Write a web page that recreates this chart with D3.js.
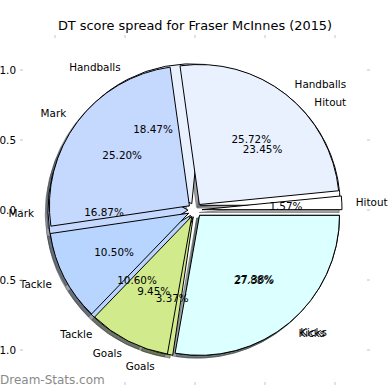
<!DOCTYPE html>
<html>
<head>
<meta charset="utf-8">
<script src="https://cdn.jsdelivr.net/npm/d3@7"></script>
<style>
  html, body { margin: 0; padding: 0; background: #fff; }
  svg { display: block; font-family: "DejaVu Sans", sans-serif; }
</style>
</head>
<body>
<svg id="chart" width="390" height="390"></svg>
<script>
// ---- data ----
const categories = ["Hitout", "Handballs", "Mark", "Tackle", "Goals", "Kicks"];
const backValues = [23.45, 18.47, 16.87, 10.60, 3.37, 27.38];
const frontValues = [1.57, 25.72, 25.20, 10.50, 9.45, 27.88];
const tickValues = [-1.0, -0.5, 0.0, 0.5, 1.0];
const titleText = "DT score spread for Fraser McInnes (2015)";
const watermark = "Dream-Stats.com";

// ---- style ----
const wedgeColors = ["#ffffff", "#e9f0fe", "#c5d8fd", "#b8d5ff", "#d1eb8c", "#dcffff"];
const explode = 0.05;

const svg = d3.select("#chart");
const x = d3.scaleLinear().domain([-1.25, 1.25]).range([20, 370]);
const y = d3.scaleLinear().domain([-1.25, 1.25]).range([385, 35]);
const r = x(1) - x(0);
const cx0 = x(0), cy0 = y(0);

const pie = d3.pie().sort(null).value(d => d)
  .startAngle(Math.PI / 2).endAngle(Math.PI / 2 - 2 * Math.PI);
const arc = d3.arc().innerRadius(0).outerRadius(r);

function layout(values) {
  return pie(values).map((d, i) => {
    const m = (d.startAngle + d.endAngle) / 2;
    const ox = explode * r * Math.sin(m), oy = -explode * r * Math.cos(m);
    return { d, i, m, cx: cx0 + ox, cy: cy0 + oy, value: values[i] };
  });
}
const back = layout(backValues);
const front = layout(frontValues);
const all = back.concat(front);

// shadows (below all wedges)
const shadowOff = x(0.02) - x(0);
svg.append("g").selectAll("path").data(all).join("path")
  .attr("transform", w => `translate(${w.cx - shadowOff},${w.cy + shadowOff})`)
  .attr("d", w => arc(w.d))
  .attr("fill", w => { const c = d3.rgb(wedgeColors[w.i]); return d3.rgb(c.r * 0.3, c.g * 0.3, c.b * 0.3); })
  .attr("stroke", w => { const c = d3.rgb(wedgeColors[w.i]); return d3.rgb(c.r * 0.3, c.g * 0.3, c.b * 0.3); })
  .attr("fill-opacity", 0.5).attr("stroke-opacity", 0.5).attr("stroke-width", 1);

// wedges
function drawWedges(set) {
  svg.append("g").selectAll("path").data(set).join("path")
    .attr("transform", w => `translate(${w.cx},${w.cy})`)
    .attr("d", w => arc(w.d))
    .attr("fill", w => wedgeColors[w.i])
    .attr("stroke", "#000").attr("stroke-width", 1).attr("stroke-linejoin", "miter");
}
drawWedges(back);
drawWedges(front);

// texts
function drawTexts(set) {
  const g = svg.append("g").attr("font-size", "10.4px").attr("fill", "#000");
  set.forEach(w => {
    const lx = w.cx + 1.1 * r * Math.sin(w.m), ly = w.cy - 1.1 * r * Math.cos(w.m);
    g.append("text").attr("x", lx).attr("y", ly)
      .attr("text-anchor", lx > cx0 ? "start" : "end")
      .attr("dominant-baseline", "central")
      .text(categories[w.i]);
    const px = w.cx + 0.6 * r * Math.sin(w.m), py = w.cy - 0.6 * r * Math.cos(w.m);
    g.append("text").attr("x", px).attr("y", py)
      .attr("text-anchor", "middle").attr("dominant-baseline", "central")
      .text(w.value.toFixed(2) + "%");
  });
}
drawTexts(back);
drawTexts(front);

// ticks
const tickG = svg.append("g").attr("stroke", "#c4c4c4").attr("stroke-width", 1);
tickValues.forEach(v => {
  tickG.append("line").attr("x1", 20).attr("x2", 23).attr("y1", y(v)).attr("y2", y(v));
  tickG.append("line").attr("x1", 367).attr("x2", 370).attr("y1", y(v)).attr("y2", y(v));
  tickG.append("line").attr("y1", 35).attr("y2", 38).attr("x1", x(v)).attr("x2", x(v));
  tickG.append("line").attr("y1", 382).attr("y2", 385).attr("x1", x(v)).attr("x2", x(v));
});
const fmt = d3.format(".1f");
const tl = svg.append("g").attr("font-size", "10.4px").attr("fill", "#000");
tickValues.forEach(v => {
  tl.append("text").attr("x", 16).attr("y", y(v)).attr("text-anchor", "end")
    .attr("dominant-baseline", "central").text(fmt(v).replace("−", "-"));
  tl.append("text").attr("x", x(v)).attr("y", 391).attr("text-anchor", "middle")
    .attr("dominant-baseline", "hanging").text(fmt(v).replace("−", "-"));
});

// title
svg.append("text").attr("x", 195).attr("y", 25).attr("text-anchor", "middle")
  .attr("dominant-baseline", "central").attr("font-size", "12.9px").text(titleText);

// watermark
svg.append("text").attr("x", 0).attr("y", 380).attr("dominant-baseline", "central")
  .attr("font-size", "12px").attr("fill", "#8a8a8a").text(watermark);
</script>
</body>
</html>
